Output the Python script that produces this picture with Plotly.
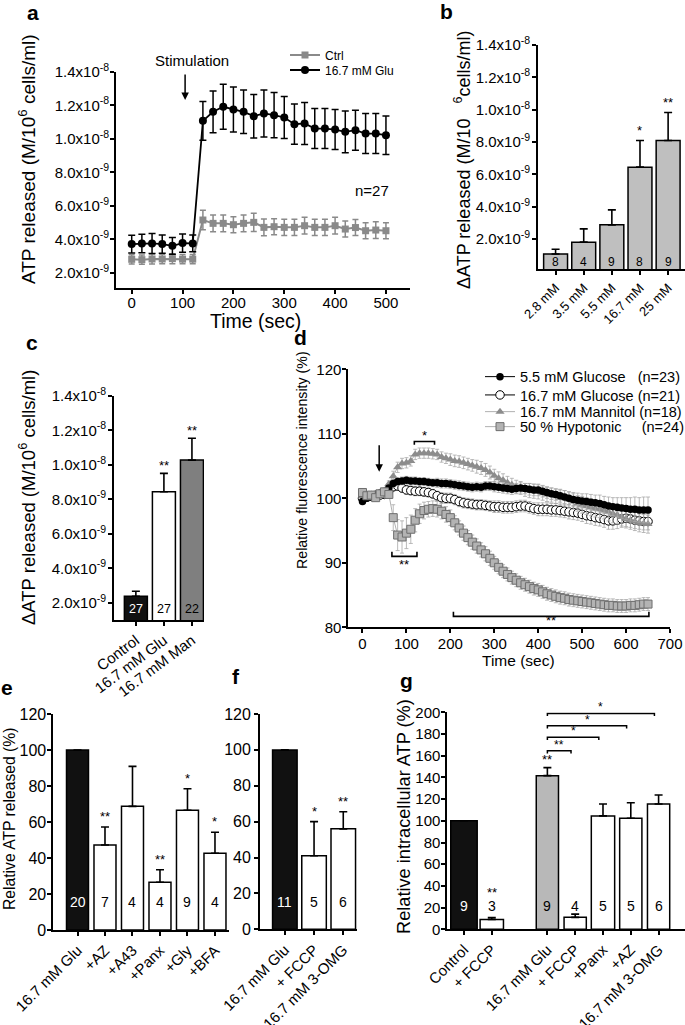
import plotly.graph_objects as go

W, H = 685, 1025
FONT = "Liberation Sans, Arial, Helvetica, sans-serif"

# ---------------- DATA ----------------
# Panel a (values in units of 1e-9 M / 10^6 cells/ml)
a_time = [0, 20, 40, 60, 80, 100, 120, 140, 160, 180, 200, 220, 240, 260, 280,
          300, 320, 340, 360, 380, 400, 420, 440, 460, 480, 500]
a_ctrl = [2.80, 2.78, 2.82, 2.82, 2.84, 2.81, 2.81, 5.15, 4.95, 4.95, 4.87, 4.95, 5.01,
          4.71, 4.75, 4.71, 4.71, 4.81, 4.71, 4.71, 4.81, 4.61, 4.70, 4.51, 4.55, 4.51]
a_ctrl_err = [0.28, 0.28, 0.30, 0.28, 0.30, 0.28, 0.28, 0.58, 0.50, 0.50, 0.48, 0.50, 0.55,
              0.50, 0.48, 0.48, 0.48, 0.50, 0.48, 0.48, 0.50, 0.48, 0.48, 0.48, 0.50, 0.48]
a_glu = [3.71, 3.75, 3.75, 3.71, 3.61, 3.77, 3.75, 11.08, 11.62, 11.92, 11.76, 11.62, 11.36,
         11.52, 11.42, 11.28, 10.88, 10.92, 10.62, 10.62, 10.56, 10.42, 10.52, 10.32, 10.32, 10.22]
a_glu_err = [0.53, 0.55, 0.60, 0.55, 0.50, 0.55, 0.50, 1.16, 1.25, 1.35, 1.35, 1.30, 1.30,
             1.40, 1.35, 1.25, 1.20, 1.25, 1.20, 1.20, 1.20, 1.25, 1.20, 1.20, 1.20, 1.15]
a_xticks = [0, 100, 200, 300, 400, 500]
sci_vals = [2, 4, 6, 8, 10, 12, 14]
sci_text = ["2.0x10<sup>-9</sup>", "4.0x10<sup>-9</sup>", "6.0x10<sup>-9</sup>", "8.0x10<sup>-9</sup>",
            "1.0x10<sup>-8</sup>", "1.2x10<sup>-8</sup>", "1.4x10<sup>-8</sup>"]

# Panel b
b_cats = ["2.8 mM", "3.5 mM", "5.5 mM", "16.7 mM", "25 mM"]
b_vals = [1.07, 1.80, 2.87, 6.44, 8.09]
b_err = [0.29, 0.82, 0.93, 1.65, 1.73]
b_n = [8, 4, 9, 8, 9]
b_sig = ["", "", "", "*", "**"]

# Panel c
c_cats = ["Control", "16.7 mM Glu", "16.7 mM Man"]
c_vals = [2.38, 8.44, 10.28]
c_err = [0.29, 1.07, 1.27]
c_n = [27, 27, 22]
c_sig = ["", "**", "**"]

# Panel d (time in s, relative fluorescence %)
d_time = [0, 10, 20, 30, 40, 50, 60, 70, 80, 90, 100, 110, 120, 130, 140, 150, 160,
          170, 180, 190, 200, 210, 220, 230, 240, 250, 260, 270, 280, 290, 300, 310,
          320, 330, 340, 350, 360, 370, 380, 390, 400, 410, 420, 430, 440, 450, 460,
          470, 480, 490, 500, 510, 520, 530, 540, 550, 560, 570, 580, 590, 600, 610,
          620, 630, 640, 650]
d_glu55 = [99.5, 100.0, 100.3, 100.6, 100.8, 101.0, 101.6,
           102.3, 102.6, 102.7, 102.8, 102.7, 102.7, 102.6, 102.6, 102.5, 102.4,
           102.4, 102.3, 102.3, 102.2, 102.1, 102.0, 101.9, 101.8, 101.7, 101.8,
           101.7, 101.9, 101.9, 101.8, 101.7, 101.6, 101.5, 101.4, 101.5, 101.6,
           101.5, 101.4, 101.3, 101.3, 101.1, 100.9, 100.7, 100.6, 100.4, 100.2,
           100.0, 99.8, 99.7, 99.6, 99.5, 99.4, 99.3, 99.2, 99.0, 98.8,
           98.7, 98.6, 98.5, 98.4, 98.3, 98.3, 98.2, 98.2, 98.2]
d_glu55_err = [0.4, 0.4, 0.4, 0.4, 0.4, 0.4, 0.5,
               0.6, 0.6, 0.6, 0.6, 0.6, 0.6, 0.6, 0.6, 0.6, 0.6, 0.7, 0.7, 0.7, 0.7, 0.7, 0.7,
               0.7, 0.7, 0.7, 0.7, 0.7, 0.7, 0.7,
               0.8, 0.8, 0.8, 0.8, 0.8, 0.8, 0.8, 0.8, 0.9, 0.9, 0.9, 0.9, 0.9, 0.9, 0.9,
               1.0, 1.0, 1.0, 1.1, 1.1, 1.1, 1.2, 1.2, 1.2, 1.3, 1.3, 1.4, 1.4, 1.5, 1.6,
               1.7, 1.8, 1.9, 1.9, 2.0, 2.0]
d_glu167 = [100.0, 100.2, 100.3, 100.4, 100.5, 100.6, 101.2,
            101.8, 101.9, 101.6, 101.3, 101.2, 101.1, 101.1, 101.0, 100.9, 100.7,
            100.4, 100.1, 100.0, 100.0, 99.8, 99.5, 99.3, 99.2, 99.1, 99.0,
            99.0, 98.9, 98.8, 98.7, 98.7, 98.6, 98.6, 98.6, 98.7, 98.8,
            98.8, 98.6, 98.4, 98.3, 98.3, 98.3, 98.2, 98.2, 98.1, 98.0,
            97.9, 97.8, 97.7, 97.5, 97.3, 97.2, 97.0, 96.9, 96.7, 96.5,
            96.5, 96.6, 96.8, 96.9, 96.8, 96.6, 96.5, 96.4, 96.4]
d_glu167_err = [0.4, 0.4, 0.4, 0.4, 0.4, 0.4, 0.5,
                0.7, 0.7, 0.7, 0.7, 0.7, 0.7, 0.7, 0.7, 0.7, 0.7, 0.7, 0.8, 0.8, 0.8, 0.8, 0.8,
                0.8, 0.8, 0.8, 0.8, 0.8, 0.8, 0.8,
                0.9, 0.9, 0.9, 0.9, 0.9, 0.9, 0.9, 0.9, 0.9, 0.9, 1.0, 1.0, 1.0, 1.0, 1.0,
                1.0, 1.0, 1.1, 1.1, 1.1, 1.1, 1.2, 1.2, 1.2, 1.2, 1.2, 1.3, 1.3, 1.3, 1.3,
                1.3, 1.3, 1.3, 1.3, 1.3, 1.3]
d_man = [100.3, 100.5, 100.6, 100.7, 100.9, 101.2, 102.2,
         103.4, 104.8, 105.4, 105.5, 105.8, 106.8, 107.0, 107.0, 107.0, 106.9,
         106.8, 106.4, 106.2, 106.0, 105.8, 105.7, 105.5, 105.3, 105.1, 104.9,
         104.7, 104.4, 104.0, 103.5, 103.1, 102.8, 102.4, 102.1, 101.8, 101.6,
         101.3, 101.2, 101.1, 101.0, 100.8, 100.6, 100.5, 100.3, 100.1, 100.0,
         99.8, 99.5, 99.2, 99.0, 98.8, 98.6, 98.4, 98.3, 98.1, 97.9,
         97.6, 97.4, 97.1, 96.8, 96.6, 96.4, 96.2, 96.1, 96.0]
d_man_err = [0.4, 0.4, 0.4, 0.4, 0.4, 0.4, 0.5,
             0.8, 0.8, 0.8, 0.8, 0.8, 0.8, 0.8, 0.8, 0.8, 0.8, 0.8, 0.8, 0.8, 0.9, 0.9, 0.9,
             0.9, 0.9, 0.9, 1.0, 1.0, 1.0, 1.0,
             1.0, 1.0, 1.0, 1.0, 1.0, 1.0, 1.0, 1.0, 1.1, 1.1, 1.1, 1.1, 1.1, 1.1, 1.1,
             1.2, 1.2, 1.2, 1.2, 1.2, 1.3, 1.3, 1.3, 1.3, 1.3, 1.3, 1.4, 1.4, 1.4, 1.4,
             1.4, 1.4, 1.4, 1.4, 1.4, 1.4]
d_hypo = [100.9, 100.4, 100.5, 100.1, 100.7, 101.0, 100.6,
          97.0, 94.3, 94.0, 94.6, 95.2, 96.6, 97.6, 98.1, 98.3, 98.4,
          98.3, 98.0, 97.5, 97.0, 96.2, 95.4, 94.6, 93.9, 93.2, 92.6,
          92.0, 91.4, 90.7, 90.0, 89.3, 88.7, 88.2, 87.7, 87.3, 86.9,
          86.6, 86.3, 86.0, 85.8, 85.5, 85.2, 85.0, 84.8, 84.6, 84.5,
          84.3, 84.2, 84.1, 84.0, 83.9, 83.8, 83.7, 83.6, 83.5, 83.4,
          83.4, 83.3, 83.3, 83.3, 83.4, 83.4, 83.5, 83.6, 83.6]
d_hypo_err = [0.5, 0.5, 0.5, 0.5, 0.5, 0.5, 0.6,
              2.0, 2.4, 2.5, 2.4, 2.2, 1.8, 1.5, 1.3, 1.2, 1.2, 1.2, 1.2, 1.2, 1.2, 1.1, 1.1,
              1.1, 1.1, 1.1, 1.1, 1.1, 1.1, 1.1,
              1.0, 1.0, 1.0, 1.0, 1.0, 1.0, 1.0, 1.0, 1.0, 1.0, 1.0, 1.0, 1.0, 1.0, 1.0,
              1.0, 1.0, 1.0, 1.0, 1.0, 1.0, 1.0, 1.0, 1.0, 1.0, 1.0, 1.0, 1.0, 1.0, 1.0,
              1.0, 1.0, 1.0, 1.0, 1.0, 1.0]
d_names = ["5.5 mM Glucose\u00a0\u00a0\u00a0(n=23)", "16.7 mM Glucose (n=21)",
           "16.7 mM Mannitol (n=18)", "50 % Hypotonic\u00a0\u00a0\u00a0\u00a0\u00a0(n=24)"]
d_xticks = [0, 100, 200, 300, 400, 500, 600, 700]
d_yticks = [80, 90, 100, 110, 120]

# Panel e
e_cats = ["16.7 mM Glu", "+AZ", "+A43", "+Panx", "+Gly", "+BFA"]
e_vals = [100, 47.2, 68.7, 26.5, 66.5, 42.6]
e_err = [0, 10.0, 22.2, 7.0, 12.0, 11.7]
e_n = [20, 7, 4, 4, 9, 4]
e_sig = ["", "**", "", "**", "*", "*"]

# Panel f
f_cats = ["16.7 mM Glu", "+ FCCP", "16.7 mM 3-OMG"]
f_vals = [100, 41.0, 56.0]
f_err = [0, 19.0, 9.5]
f_n = [11, 5, 6]
f_sig = ["", "*", "**"]
pct_ticks = [0, 20, 40, 60, 80, 100, 120]

# Panel g
g_cats = ["Control", "+ FCCP", "16.7 mM Glu", "+ FCCP", "+Panx", "+AZ", "16.7 mM 3-OMG"]
g_slot = [0, 1, 3, 4, 5, 6, 7]
g_vals = [100, 9.0, 141.6, 11.0, 104.5, 102.3, 115.5]
g_err = [0, 1.8, 7.4, 3.0, 11.0, 14.4, 8.3]
g_n = [9, 3, 9, 4, 5, 5, 6]
g_sig = ["", "**", "**", "", "", "", ""]
g_ticks = [0, 20, 40, 60, 80, 100, 120, 140, 160, 180, 200]
g_cmp_target = [4, 5, 6, 7]
g_cmp_label = ["**", "*", "*", "*"]

# ---------------- HELPERS ----------------
def dom_x(l, r):
    return [l / W, min(r / W, 1.0)]

def dom_y(b, t):
    return [1 - b / H, 1 - t / H]

def px(x):
    return x / W

def py(y):
    return 1 - y / H

BLACK = "#111111"
axis_common = dict(showgrid=False, zeroline=False, showline=True, linecolor="black",
                   linewidth=1.8, ticks="outside", ticklen=4, tickwidth=1.5,
                   tickcolor="black", automargin=False,
                   tickfont=dict(family=FONT, size=15, color="black"))

fig = go.Figure()
ann = []
shapes = []

def text_ann(x, y, text, size, xref="paper", yref="paper", color="black", **kw):
    d = dict(x=x, y=y, xref=xref, yref=yref, text=text, showarrow=False,
             xanchor="center", yanchor="middle",
             font=dict(family=FONT, size=size, color=color))
    d.update(kw)
    ann.append(d)

def upper_err(err):
    return dict(type="data", array=err, arrayminus=[0] * len(err), symmetric=False,
                color="black", thickness=1.6, width=4)

def legend_box(x_px, y_px, size):
    return dict(x=px(x_px), y=py(y_px), xanchor="left", yanchor="middle",
                bgcolor="rgba(0,0,0,0)", font=dict(family=FONT, size=size, color="black"),
                itemwidth=30)

# ---------------- PANEL A ----------------
fig.add_trace(go.Scatter(x=a_time, y=a_ctrl, mode="lines+markers", name="Ctrl",
                         line=dict(color="#8a8a8a", width=2),
                         marker=dict(symbol="square", size=7, color="#8a8a8a"),
                         error_y=dict(type="data", array=a_ctrl_err, color="#8a8a8a",
                                      thickness=1.5, width=3),
                         xaxis="x", yaxis="y", legend="legend"))
fig.add_trace(go.Scatter(x=a_time, y=a_glu, mode="lines+markers", name="16.7 mM Glu",
                         line=dict(color="black", width=1.8),
                         marker=dict(symbol="circle", size=8, color="black"),
                         error_y=dict(type="data", array=a_glu_err, color="black",
                                      thickness=1.5, width=3.5),
                         xaxis="x", yaxis="y", legend="legend2"))

# ---------------- PANEL B ----------------
b_pos = list(range(len(b_cats)))
fig.add_trace(go.Bar(x=b_pos, y=b_vals, width=0.85, marker=dict(color="#bfbfbf",
                     line=dict(color="black", width=1.5)), error_y=upper_err(b_err),
                     showlegend=False, xaxis="x2", yaxis="y2"))
for p, v, e, n, s in zip(b_pos, b_vals, b_err, b_n, b_sig):
    text_ann(p, 0.55, str(n), 12, "x2", "y2")
    if s:
        text_ann(p, v + e, s, 13, "x2", "y2", yanchor="bottom", yshift=1)

# ---------------- PANEL C ----------------
c_pos = list(range(len(c_cats)))
fig.add_trace(go.Bar(x=c_pos, y=c_vals, width=0.82,
                     marker=dict(color=[BLACK, "white", "#7f7f7f"],
                                 line=dict(color="black", width=1.5)),
                     error_y=upper_err(c_err), showlegend=False, xaxis="x3", yaxis="y3"))
for p, v, e, n, s, col in zip(c_pos, c_vals, c_err, c_n, c_sig, ["white", "black", "black"]):
    text_ann(p, 1.63, str(n), 12.5, "x3", "y3", color=col)
    if s:
        text_ann(p, v + e, s, 13, "x3", "y3", yanchor="bottom", yshift=-2)

# ---------------- PANEL D ----------------
d_styles = [
    (d_glu167, d_glu167_err, d_names[1], "legend4",
     dict(symbol="circle", size=8.5, color="white", line=dict(color="black", width=1)), "black"),
    (d_man, d_man_err, d_names[2], "legend5",
     dict(symbol="triangle-up", size=8, color="#8c8c8c"), "#b0b0b0"),
    (d_glu55, d_glu55_err, d_names[0], "legend3",
     dict(symbol="circle", size=7.5, color="black"), "black"),
    (d_hypo, d_hypo_err, d_names[3], "legend6",
     dict(symbol="square", size=8, color="#b3b3b3", line=dict(color="#6e6e6e", width=1)), "#b0b0b0"),
]
for yv, ev, nm, lg, mk, lc in d_styles:
    fig.add_trace(go.Scatter(x=d_time, y=yv, mode="lines+markers", name=nm,
                             line=dict(color=lc, width=1), marker=mk,
                             error_y=dict(type="data", array=ev, color="#a8a8a8",
                                          thickness=0.8, width=2),
                             xaxis="x4", yaxis="y4", legend=lg))

# significance brackets (panel d)
d_brackets = [(118, 164, 108.8, -0.5, "*", 109.7), (67, 124, 91.0, 0.7, "**", 89.8),
              (207, 652, 81.7, 0.7, "**", 81.0)]
for x0, x1, yb, tick, lab, ylab in d_brackets:
    shapes.append(dict(type="path", xref="x4", yref="y4",
                       path=f"M {x0},{yb + tick} L {x0},{yb} L {x1},{yb} L {x1},{yb + tick}",
                       line=dict(color="black", width=1.6)))
    text_ann((x0 + x1) / 2, ylab, lab, 13, "x4", "y4")

# ---------------- PANEL E ----------------
e_pos = list(range(len(e_cats)))
fig.add_trace(go.Bar(x=e_pos, y=e_vals, width=0.8,
                     marker=dict(color=[BLACK] + ["white"] * 5,
                                 line=dict(color="black", width=1.5)),
                     error_y=upper_err(e_err), showlegend=False, xaxis="x5", yaxis="y5"))
for p, v, e, n, s in zip(e_pos, e_vals, e_err, e_n, e_sig):
    text_ann(p, 15.7, str(n), 14, "x5", "y5", color="white" if p == 0 else "black")
    if s:
        text_ann(p, v + e, s, 13, "x5", "y5", yanchor="bottom", yshift=1)

# ---------------- PANEL F ----------------
f_pos = list(range(len(f_cats)))
fig.add_trace(go.Bar(x=f_pos, y=f_vals, width=0.84,
                     marker=dict(color=[BLACK, "white", "white"],
                                 line=dict(color="black", width=1.5)),
                     error_y=upper_err(f_err), showlegend=False, xaxis="x6", yaxis="y6"))
for p, v, e, n, s in zip(f_pos, f_vals, f_err, f_n, f_sig):
    text_ann(p, 15.4, str(n), 14, "x6", "y6", color="white" if p == 0 else "black")
    if s:
        text_ann(p, v + e, s, 13, "x6", "y6", yanchor="bottom", yshift=1)

# ---------------- PANEL G ----------------
fig.add_trace(go.Bar(x=g_slot, y=g_vals, width=[0.95, 0.84, 0.8, 0.8, 0.84, 0.8, 0.8],
                     marker=dict(color=[BLACK, "white", "#b8b8b8", "white", "white", "white", "white"],
                                 line=dict(color="black", width=1.5)),
                     error_y=upper_err(g_err), showlegend=False, xaxis="x7", yaxis="y7"))
for i, (p, v, e, n, s) in enumerate(zip(g_slot, g_vals, g_err, g_n, g_sig)):
    text_ann(p, 21.5, str(n), 14, "x7", "y7", color="white" if i == 0 else "black")
text_ann(g_slot[1], 34.0, g_sig[1], 13, "x7", "y7")
text_ann(g_slot[2], g_vals[2] + g_err[2], g_sig[2], 13, "x7", "y7", yanchor="bottom", yshift=-1)
g_levels = [164.6, 177.0, 187.6, 199.0]
glu_slot = g_slot[2]
for tgt, lab, lvl in zip(g_cmp_target, g_cmp_label, g_levels):
    x0 = glu_slot
    x1 = tgt - 0.15
    shapes.append(dict(type="path", xref="x7", yref="y7",
                       path=f"M {x0},{lvl - 2.5} L {x0},{lvl} L {x1},{lvl} L {x1},{lvl - 2.5}",
                       line=dict(color="black", width=1.5)))
    text_ann((x0 + x1) / 2, lvl, lab, 12, "x7", "y7", yanchor="bottom", yshift=-3)

# ---------------- AXES ----------------
layout_axes = dict(
    xaxis=dict(axis_common, domain=dom_x(116, 410), range=[-30.9, 547.3], tickvals=a_xticks,
               anchor="y", ticklabelstandoff=-4),
    yaxis=dict(axis_common, domain=dom_y(288, 72), range=[1.085, 14], tickvals=sci_vals,
               ticktext=sci_text, anchor="x", ticklabelstandoff=-2),
    xaxis2=dict(axis_common, domain=dom_x(538, 686), range=[-0.625, 4.6], tickvals=b_pos,
                ticktext=b_cats, tickangle=-45, anchor="y2",
                tickfont=dict(family=FONT, size=13, color="black")),
    yaxis2=dict(axis_common, domain=dom_y(269.3, 45), range=[0.12, 14], tickvals=sci_vals,
                ticktext=sci_text, anchor="x2", ticklabelstandoff=-1),
    xaxis3=dict(axis_common, domain=dom_x(114, 204), range=[-0.78, 2.43], tickvals=c_pos,
                ticktext=c_cats, tickangle=-37, anchor="y3"),
    yaxis3=dict(axis_common, domain=dom_y(620, 396), range=[1.0, 14], tickvals=sci_vals,
                ticktext=sci_text, anchor="x3", ticklabelstandoff=-1),
    xaxis4=dict(axis_common, domain=dom_x(348.3, 670), range=[-32.3, 700], tickvals=d_xticks,
                anchor="y4", ticklabelstandoff=-2),
    yaxis4=dict(axis_common, domain=dom_y(627.3, 369.3), range=[80, 120], tickvals=d_yticks,
                anchor="x4", ticklabelstandoff=-2),
    xaxis5=dict(axis_common, domain=dom_x(53.3, 229), range=[-0.88, 5.51], tickvals=e_pos,
                ticktext=e_cats, tickangle=-45, anchor="y5"),
    yaxis5=dict(axis_common, domain=dom_y(930, 714), range=[0, 120], tickvals=pct_ticks,
                anchor="x5", tickfont=dict(family=FONT, size=16, color="black"),
                ticklabelstandoff=-2),
    xaxis6=dict(axis_common, domain=dom_x(260, 357), range=[-0.85, 2.47], tickvals=f_pos,
                ticktext=f_cats, tickangle=-45, anchor="y6"),
    yaxis6=dict(axis_common, domain=dom_y(929.3, 714), range=[0, 120], tickvals=pct_ticks,
                anchor="x6", tickfont=dict(family=FONT, size=16, color="black")),
    xaxis7=dict(axis_common, domain=dom_x(447.3, 686), range=[-0.6, 7.95], tickvals=g_slot,
                ticktext=g_cats, tickangle=-45, anchor="y7"),
    yaxis7=dict(axis_common, domain=dom_y(929.3, 712.3), range=[0, 200], tickvals=g_ticks,
                anchor="x7", ticklabelstandoff=-2),
)

# ---------------- TITLES / LABELS ----------------
text_ann(px(27), py(159), "ATP released (M/10<sup>6</sup> cells/ml)", 19, textangle=-90)
text_ann(px(255), py(321), "Time (sec)", 19.5)
text_ann(px(462), py(160), "\u0394ATP released (M/10\u00a0\u00a0\u00a0<sup>6</sup>cells/ml)", 18, textangle=-90)
text_ann(px(27), py(498), "\u0394ATP released (M/10<sup>6</sup> cells/ml)", 18.5, textangle=-90)
text_ann(px(302), py(460), "Relative fluorescence intensity (%)", 14.2, textangle=-90)
text_ann(px(518), py(660), "Time (sec)", 15.5)
text_ann(px(9), py(819), "Relative ATP released (%)", 15.7, textangle=-90)
text_ann(px(404), py(817), "Relative intracellular ATP (%)", 18.2, textangle=-90)

for lab, x, y in [("a", 33, 12), ("b", 446, 11), ("c", 32, 342), ("d", 300, 337),
                  ("e", 7, 687), ("f", 236, 676), ("g", 406, 680)]:
    text_ann(px(x), py(y), f"<b>{lab}</b>", 21)

# panel a extras
text_ann(118, py(60), "Stimulation", 15, xref="x", yref="paper")
ann.append(dict(x=105, y=12.33, xref="x", yref="y", text="", showarrow=True, arrowhead=2,
                arrowsize=1, arrowwidth=1.5, arrowcolor="black", ax=0, ay=-27))
text_ann(472, 6.94, "n=27", 15, xref="x", yref="y")
# panel d arrow
ann.append(dict(x=38, y=104.1, xref="x4", yref="y4", text="", showarrow=True, arrowhead=2,
                arrowsize=1, arrowwidth=1.5, arrowcolor="black", ax=0, ay=-28))

fig.update_layout(
    template="none",
    width=W, height=H, margin=dict(l=0, r=0, t=0, b=0, autoexpand=False),
    paper_bgcolor="white", plot_bgcolor="white",
    font=dict(family=FONT, color="black"),
    bargap=0.1,
    annotations=ann, shapes=shapes,
    legend=legend_box(285, 55, 12),
    legend2=legend_box(285, 70, 12),
    legend3=legend_box(480, 376.7, 14.5),
    legend4=legend_box(480, 395, 14.5),
    legend5=legend_box(480, 411.7, 14.5),
    legend6=legend_box(480, 426.7, 14.5),
    **layout_axes,
)

fig.write_html("out.html", config={"displayModeBar": False},
               post_script="document.body.style.margin='0px';")
